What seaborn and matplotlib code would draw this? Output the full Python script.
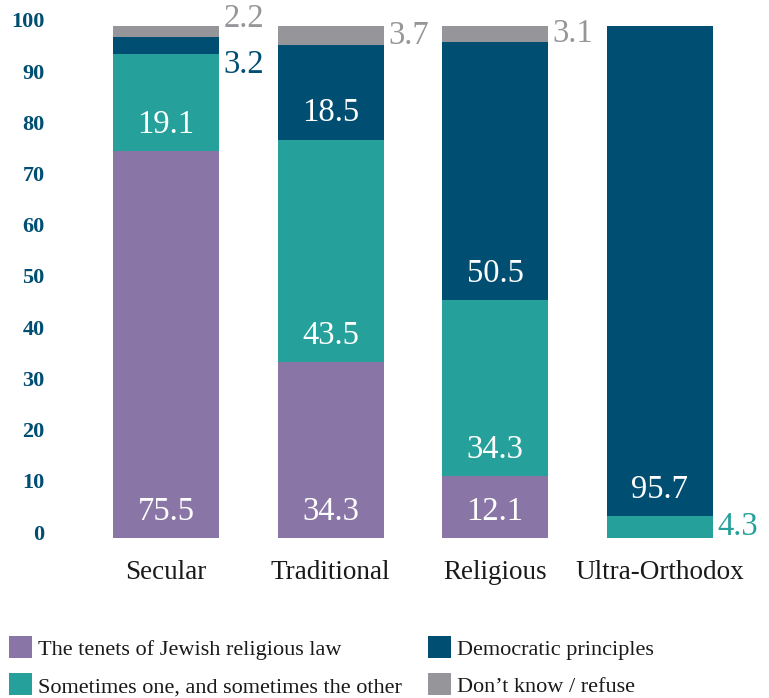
import matplotlib
matplotlib.use("Agg")
import matplotlib.pyplot as plt
import matplotlib.transforms as mtransforms
from matplotlib.patches import Rectangle
import numpy as np
import pandas as pd
import seaborn as sns

categories = ["Secular", "Traditional", "Religious", "Ultra-Orthodox"]
series_names = [
    "The tenets of Jewish religious law",
    "Sometimes one, and sometimes the other",
    "Democratic principles",
    "Don\u2019t know / refuse",
]
religious_law = [75.5, 34.3, 12.1, 0.0]
sometimes = [19.1, 43.5, 34.3, 4.3]
democratic = [3.2, 18.5, 50.5, 95.7]
dont_know = [2.2, 3.7, 3.1, 0.0]
y_ticks = [0, 10, 20, 30, 40, 50, 60, 70, 80, 90, 100]

series_values = [religious_law, sometimes, democratic, dont_know]
colors = ["#8A76A6", "#26A09A", "#004F72", "#96969A"]

sns.set_theme(style="white")
plt.rcParams["font.family"] = ["Liberation Serif", "DejaVu Serif"]

W, H = 769, 698
fig = plt.figure(figsize=(W / 100, H / 100), dpi=100)
ax = fig.add_axes([0.1087, 0.2292, 0.8563, 0.7336])

bottoms = np.zeros(len(categories))
for name, vals, col in zip(series_names, series_values, colors):
    df = pd.DataFrame({"category": categories, "value": vals})
    sns.barplot(data=df, x="category", y="value", color=col, width=0.644,
                bottom=bottoms, ax=ax, linewidth=0, saturation=1)
    bottoms = bottoms + np.array(vals)

# value labels: inside (white) for large segments, beside the bar for small ones
label_fs = 23.5
nudges = {(0, 3): 13, (0, 2): -19}  # px offsets to keep Secular's small labels apart
base = np.zeros(len(categories))
for si, (vals, col) in enumerate(zip(series_values, colors)):
    for ci, v in enumerate(vals):
        if v <= 0:
            continue
        if v >= 8:
            ax.text(ci, base[ci] + 5.2, f"{v:.1f}", ha="center", va="center",
                    color="white", fontsize=label_fs)
        else:
            dy = nudges.get((ci, si), 0)
            tr = ax.transData + mtransforms.ScaledTranslation(0, dy / 100, fig.dpi_scale_trans)
            ax.text(ci + 0.35, base[ci] + v / 2, f"{v:.1f}", ha="left", va="center",
                    color=col, fontsize=label_fs, transform=tr)
    base = base + np.array(vals)

ax.set_xlim(-0.5, 3.5)
ax.set_ylim(0, 100)
ax.set_yticks(y_ticks)
ax.set_yticklabels([str(t) for t in y_ticks], fontweight="bold", color="#004F72", fontsize=16)
ax.tick_params(axis="y", length=0, pad=28)
ax.tick_params(axis="x", length=0, pad=16, labelsize=19.5, labelcolor="#1a1a1a")
ax.set_xlabel("")
ax.set_ylabel("")
offset = mtransforms.ScaledTranslation(0, 6 / 100, fig.dpi_scale_trans)
for lab in ax.get_yticklabels():
    lab.set_transform(lab.get_transform() + offset)
for s in ax.spines.values():
    s.set_visible(False)
ax.grid(False)

# two-column key below the plot
key_cols = [9, 428]
key_rows = [636, 673]
for i, (name, col) in enumerate(zip(series_names, colors)):
    cx = key_cols[i // 2]
    ry = key_rows[i % 2]
    fig.add_artist(Rectangle((cx / W, 1 - (ry + 22) / H), 23 / W, 22 / H,
                             transform=fig.transFigure, facecolor=col,
                             edgecolor="none"))
    fig.text((cx + 29) / W, 1 - (ry + 19.5) / H, name, fontsize=16,
             color="#1a1a1a", ha="left", va="baseline")

fig.savefig("out.png", dpi=100)
